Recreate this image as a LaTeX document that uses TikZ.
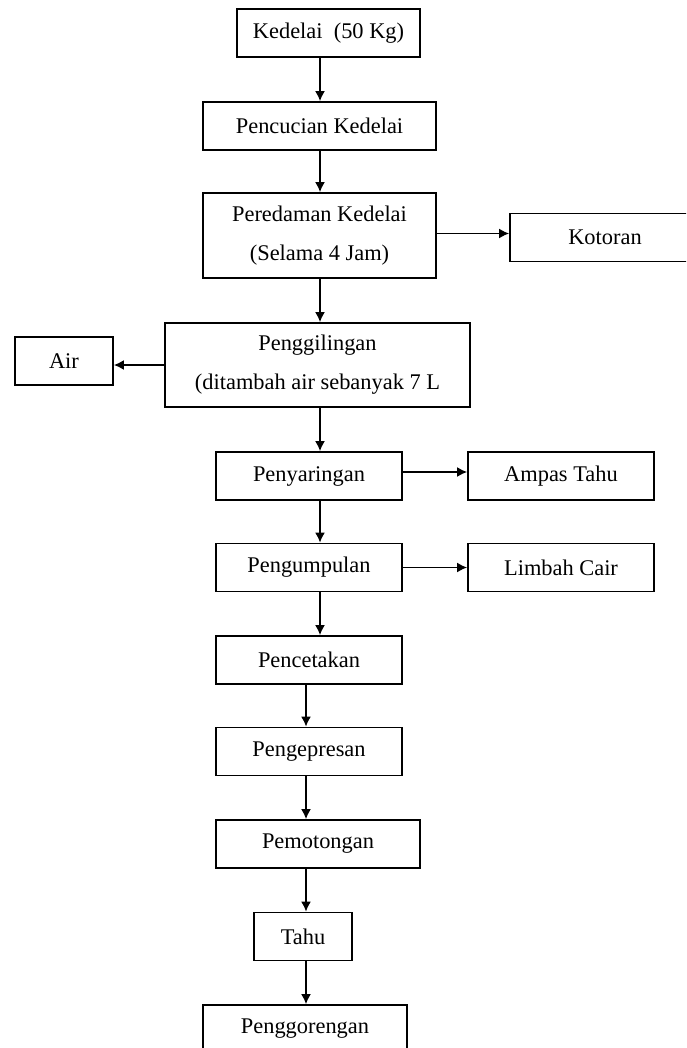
\documentclass[tikz,border=0pt]{standalone}
\usepackage{fontspec}
\setmainfont{Liberation Serif}
\usetikzlibrary{arrows.meta}

\begin{document}
\begin{tikzpicture}[x=0.5pt,y=-0.5pt,
	kotak/.style={draw,line width=0.9pt,inner sep=0pt,align=center,minimum height=24pt,font=\fontsize{11.2}{19.5}\selectfont},
	panah/.style={-{Latex[length=5pt,width=5pt]},line width=0.8pt}]
		\clip (0,0) rectangle (686,1048); %batas gambar
		\node[kotak,minimum width=91.5pt] (ked) at (328.5,33) {Kedelai~ (50 Kg)};
		\node[kotak,minimum width=116.5pt] (cuci) at (319.5,126) {Pencucian Kedelai};
		\node[kotak,minimum width=116.5pt,minimum height=42.5pt] (rendam) at (319.5,235.5) {Peredaman Kedelai\\(Selama 4 Jam)};
		\node[kotak,minimum width=95pt] (kotor) at (605,237.5) {Kotoran};
		\node[kotak,minimum width=152.5pt,minimum height=42pt] (giling) at (317.5,365) {Penggilingan\\(ditambah air sebanyak 7 L};
		\node[kotak,minimum width=49pt] (air) at (64,361) {Air};
		\node[kotak,minimum width=93pt] (saring) at (309,476) {Penyaringan};
		\node[kotak,minimum width=93pt] (ampas) at (561,476) {Ampas Tahu};
		\node[kotak,minimum width=93pt] (kumpul) at (309,567.5) {Pengumpulan};
		\node[kotak,minimum width=93pt] (limbah) at (561,567.5) {Limbah Cair};
		\node[kotak,minimum width=93pt] (cetak) at (309,660) {Pencetakan};
		\node[kotak,minimum width=93pt] (pres) at (309,751.5) {Pengepresan};
		\node[kotak,minimum width=102pt] (potong) at (318,844) {Pemotongan};
		\node[kotak,minimum width=49pt] (tahu) at (303,936.5) {Tahu};
		\node[kotak,minimum width=102pt] (goreng) at (305,1029) {Penggorengan};
		\coordinate (kolA) at (320,0); %jalur panah atas
		\coordinate (kolB) at (306,0); %jalur panah bawah
		\draw[panah] (ked.south -| kolA)--(cuci.north -| kolA);
		\draw[panah] (cuci.south -| kolA)--(rendam.north -| kolA);
		\draw[panah] (rendam.south -| kolA)--(giling.north -| kolA);
		\draw[panah] (giling.south -| kolA)--(saring.north -| kolA);
		\draw[panah] (saring.south -| kolA)--(kumpul.north -| kolA);
		\draw[panah] (kumpul.south -| kolA)--(cetak.north -| kolA);
		\draw[panah] (cetak.south -| kolB)--(pres.north -| kolB);
		\draw[panah] (pres.south -| kolB)--(potong.north -| kolB);
		\draw[panah] (potong.south -| kolB)--(tahu.north -| kolB);
		\draw[panah] (tahu.south -| kolB)--(goreng.north -| kolB);
		\draw[panah] ([yshift=1pt]rendam.east)--([yshift=1pt]rendam.east -| kotor.west); %ke samping
		\draw[panah] (giling.west)--(giling.west -| air.east);
		\draw[panah] ([yshift=2pt]saring.east)--([yshift=2pt]ampas.west);
		\draw[panah] (kumpul.east)--(limbah.west);
	\end{tikzpicture}
\end{document}
